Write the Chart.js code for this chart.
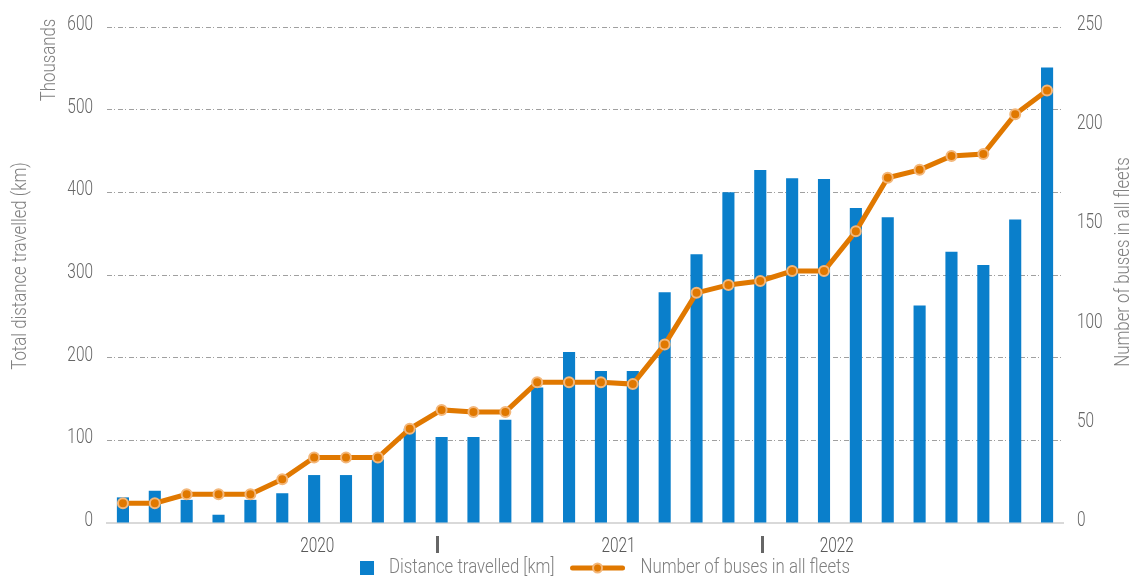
<!DOCTYPE html>
<html>
<head>
<meta charset="utf-8">
<script src="https://cdn.jsdelivr.net/npm/chart.js@4"></script>
<style>
  html, body { margin: 0; padding: 0; background: #fff; }
</style>
</head>
<body>
<canvas id="chart" width="1132" height="578"></canvas>
<script>
// distance travelled, thousands of km, one bar per period
const distance = [31, 39, 28, 10, 28, 36, 58, 58, 77, 114,
                  104, 104, 125, 164, 207, 184, 184, 279, 325, 400,
                  427, 417, 416, 381, 370, 263, 328, 312, 367, 551];

// number of buses in all fleets
const buses = [10, 10, 14.5, 14.5, 14.5, 22, 33, 33, 33, 47.5,
               57, 56, 56, 71, 71, 71, 70, 90, 116, 120,
               122, 127, 127, 147, 174, 178, 185, 186, 206, 218];

const periods = distance.map((d, i) => "P" + (i + 1));

// year labels under the axis (position as category index)
const yearLabels = ["2020", "2021", "2022"];
const yearAt = [6.1, 15.55, 22.4];
const yearBreaks = [9.85, 20.05];

const BLUE = "#0A7FCB";
const ORANGE = "#E07800";
const RING = "#F3B77A";
const TICK_FONT = "300 20px Roboto, 'DejaVu Sans', sans-serif";
const LABEL_FONT = "300 21px Roboto, 'DejaVu Sans', sans-serif";

// the original uses a condensed face, so squeeze horizontally
function txt(c, s, x, y, align, color, font, sx, rot) {
  c.save();
  c.translate(x, y);
  if (rot) c.rotate(rot);
  c.scale(sx, 1);
  c.font = font;
  c.fillStyle = color;
  c.textAlign = align;
  c.textBaseline = "middle";
  c.fillText(s, 0, 0);
  c.restore();
}

function txtWidth(c, s, font, sx) {
  c.save();
  c.font = font;
  const w = c.measureText(s).width * sx;
  c.restore();
  return w;
}

const extraText = {
  id: "extraText",
  afterDraw(chart) {
    const c = chart.ctx;
    const x = chart.scales.x, y = chart.scales.y, y1 = chart.scales.y1;
    const area = chart.chartArea;
    const tick = (s, px, py, al) => txt(c, s, px, py, al, "#666", TICK_FONT, 0.77);
    const label = (s, px, py, al, rot) => txt(c, s, px, py, al, "#7f7f7f", LABEL_FONT, 0.8, rot);

    // tick labels
    y.ticks.forEach(t => tick(String(t.value), area.left - 14, y.getPixelForValue(t.value) - 2, "right"));
    y1.ticks.forEach(t => tick(String(t.value), area.right + 14, y1.getPixelForValue(t.value) - 2, "left"));

    // axis titles
    label("Total distance travelled (km)", 21, 266, "center", -Math.PI / 2);
    label("Thousands", 50, 60, "center", -Math.PI / 2);
    label("Number of buses in all fleets", 1124, 262, "center", -Math.PI / 2);

    // year labels and separators
    const step = x.getPixelForValue(1) - x.getPixelForValue(0);
    const px = v => x.getPixelForValue(0) + v * step;
    yearLabels.forEach((t, i) => txt(c, t, px(yearAt[i]), 547, "center", "#595959", TICK_FONT, 0.77));
    c.save();
    c.fillStyle = "#666";
    yearBreaks.forEach(b => c.fillRect(Math.round(px(b)) - 1, 536, 3, 17));
    c.restore();

    // legend
    const ds = chart.data.datasets;
    const l1 = ds[1].label, l2 = ds[0].label;
    const w1 = txtWidth(c, l1, LABEL_FONT, 0.8), w2 = txtWidth(c, l2, LABEL_FONT, 0.8);
    const total = 14 + 15 + w1 + 16 + 54 + 16 + w2;
    let lx = 605 - total / 2;
    const ly = 568;
    c.save();
    c.fillStyle = BLUE;
    c.fillRect(lx, ly - 7, 14, 14);
    c.restore();
    lx += 14 + 15;
    label(l1, lx, ly, "left");
    lx += w1 + 16;
    c.save();
    c.strokeStyle = ORANGE;
    c.lineWidth = 5;
    c.lineCap = "round";
    c.beginPath();
    c.moveTo(lx + 2, ly);
    c.lineTo(lx + 52, ly);
    c.stroke();
    c.beginPath();
    c.arc(lx + 27, ly, 4.5, 0, Math.PI * 2);
    c.fillStyle = ORANGE;
    c.fill();
    c.lineWidth = 2;
    c.strokeStyle = RING;
    c.stroke();
    c.restore();
    lx += 54 + 16;
    label(l2, lx, ly, "left");
  }
};

new Chart(document.getElementById("chart"), {
  data: {
    labels: periods,
    datasets: [{
      type: "line",
      label: "Number of buses in all fleets",
      data: buses,
      yAxisID: "y1",
      borderColor: ORANGE,
      borderWidth: 5,
      backgroundColor: ORANGE,
      pointBackgroundColor: ORANGE,
      pointBorderColor: RING,
      pointBorderWidth: 2,
      pointRadius: 5,
      tension: 0,
      order: 0
    }, {
      type: "bar",
      label: "Distance travelled [km]",
      data: distance,
      yAxisID: "y",
      backgroundColor: BLUE,
      categoryPercentage: 1,
      barPercentage: 0.38,
      order: 1
    }]
  },
  options: {
    responsive: false,
    animation: false,
    layout: { padding: { top: 27, bottom: 0, left: 0, right: 0 } },
    plugins: {
      legend: { display: false },
      tooltip: { enabled: false }
    },
    scales: {
      x: {
        grid: { display: false },
        border: { display: true, color: "#d9d9d9", width: 2 },
        ticks: { display: false },
        afterFit(s) { s.height = 55; }
      },
      y: {
        position: "left",
        min: 0, max: 600,
        ticks: { stepSize: 100, display: false },
        grid: {
          drawTicks: false,
          color: ctx => ctx.tick && ctx.tick.value === 0 ? "rgba(0,0,0,0)" : "#a0a0a0",
          lineWidth: 1
        },
        border: { display: false, dash: [5, 2, 1, 3] },
        afterFit(s) { s.width = 107; }
      },
      y1: {
        position: "right",
        min: 0, max: 250,
        ticks: { stepSize: 50, display: false },
        grid: { display: false, drawTicks: false },
        border: { display: false },
        afterFit(s) { s.width = 69; }
      }
    }
  },
  plugins: [extraText]
});
</script>
</body>
</html>
